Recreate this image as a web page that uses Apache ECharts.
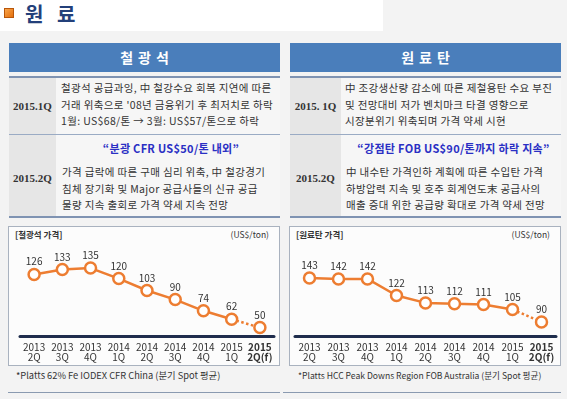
<!DOCTYPE html>
<html><head><meta charset="utf-8">
<script src="https://cdn.jsdelivr.net/npm/echarts@6/dist/echarts.min.js"></script>
<style>
html,body{margin:0;padding:0;}
body{width:567px;height:399px;background:#f3f3f3;position:relative;overflow:hidden;font-family:"Noto Sans CJK KR","Noto Sans",sans-serif;color:#333;}
.a{position:absolute;}
#topw{left:0;top:0;width:383px;height:31px;background:#fff;}
#icon{left:4px;top:8px;width:10px;height:10px;box-sizing:border-box;background:linear-gradient(135deg,#f9a54c,#e36f0c);border:1px solid #b8560a;}
#ttl{left:25px;top:0px;font-size:20px;font-weight:bold;color:#23407a;line-height:28px;word-spacing:9px;}
.panel{top:43px;width:271px;height:175px;}
.hdr{left:0;top:0;width:100%;height:29px;background:#4a7ebb;color:#fff;font-weight:bold;font-size:14px;line-height:29px;text-align:center;letter-spacing:5px;text-indent:5px;}
.ln{left:0;width:100%;background:#7f93b2;}
.row{left:0;width:100%;}
.lab{left:0;top:0;height:100%;background:#e6e6e6;display:flex;align-items:center;justify-content:center;font-family:"Liberation Serif","DejaVu Serif",serif;font-weight:bold;font-size:11px;color:#333;}
.txt{top:0;height:100%;right:0;background:#f6f6f6;font-size:10.5px;line-height:16.6px;white-space:nowrap;color:#333;box-sizing:border-box;letter-spacing:0.35px;}
.q{color:#2a2fc4;font-weight:bold;text-align:center;line-height:16px;font-size:11px;letter-spacing:0.3px;}
.box{top:226px;height:140px;background:#fcfcfc;border:1px solid #a9b2bf;box-sizing:border-box;}
.ct{font-size:8.5px;font-weight:bold;top:229px;line-height:11px;}
.cu{font-size:8.5px;top:229px;line-height:11px;}
.fn{font-size:9px;top:369px;line-height:12px;white-space:nowrap;}
.bl{top:392px;height:1px;background:#8a9ab0;}
#chart{left:0;top:0;width:567px;height:399px;}
</style></head>
<body>
<div class="a" id="topw"></div>
<div class="a" id="icon"></div>
<div class="a" id="ttl">원 료</div>

<!-- left panel -->
<div class="a panel" style="left:9px;">
  <div class="a hdr">철광석</div>
  <div class="a ln" style="top:33px;height:2px;"></div>
  <div class="a row" style="top:35px;height:56px;">
    <div class="a lab" style="width:47px;">2015.1Q</div>
    <div class="a txt" style="left:47px;padding:2px 0 0 5px;">
      <div>철광석 공급과잉, 中 철강수요 회복 지연에 따른</div>
      <div>거래 위축으로 '08년 금융위기 후 최저치로 하락</div>
      <div>1월: US$68/톤 → 3월: US$57/톤으로 하락</div>
    </div>
  </div>
  <div class="a ln" style="top:91px;height:1px;background:#9aabc4;"></div>
  <div class="a row" style="top:92px;height:81px;">
    <div class="a lab" style="width:47px;padding-top:5px;box-sizing:border-box;">2015.2Q</div>
    <div class="a txt" style="left:47px;padding:5px 0 0 6px;">
      <div class="q">“분광 CFR US$50/톤 내외”</div>
      <div style="margin-top:8px;">가격 급락에 따른 구매 심리 위축, 中 철강경기</div>
      <div>침체 장기화 및 Major 공급사들의 신규 공급</div>
      <div>물량 지속 출회로 가격 약세 지속 전망</div>
    </div>
  </div>
  <div class="a ln" style="top:173px;height:2px;"></div>
</div>

<!-- right panel -->
<div class="a panel" style="left:290px;">
  <div class="a hdr">원료탄</div>
  <div class="a ln" style="top:33px;height:2px;"></div>
  <div class="a row" style="top:35px;height:56px;">
    <div class="a lab" style="width:51px;">2015. 1Q</div>
    <div class="a txt" style="left:51px;padding:2px 0 0 4px;">
      <div>中 조강생산량 감소에 따른 제철용탄 수요 부진</div>
      <div>및 전망대비 저가 벤치마크 타결 영향으로</div>
      <div>시장분위기 위축되며 가격 약세 시현</div>
    </div>
  </div>
  <div class="a ln" style="top:91px;height:1px;background:#9aabc4;"></div>
  <div class="a row" style="top:92px;height:81px;">
    <div class="a lab" style="width:51px;padding-top:5px;box-sizing:border-box;">2015.2Q</div>
    <div class="a txt" style="left:51px;padding:5px 0 0 5px;">
      <div class="q">“강점탄 FOB US$90/톤까지 하락 지속”</div>
      <div style="margin-top:8px;">中 내수탄 가격인하 계획에 따른 수입탄 가격</div>
      <div>하방압력 지속 및 호주 회계연도末 공급사의</div>
      <div>매출 증대 위한 공급량 확대로 가격 약세 전망</div>
    </div>
  </div>
  <div class="a ln" style="top:173px;height:2px;"></div>
</div>

<!-- chart boxes -->
<div class="a box" style="left:8px;width:272px;"></div>
<div class="a box" style="left:289px;width:272px;"></div>
<div class="a ct" style="left:15px;">[철광석 가격]</div>
<div class="a cu" style="right:298px;">(US$/ton)</div>
<div class="a ct" style="left:296px;">[원료탄 가격]</div>
<div class="a cu" style="right:17px;">(US$/ton)</div>
<div class="a fn" style="left:16px;font-size:9.3px;">*Platts 62% Fe IODEX CFR China (분기 Spot 평균)</div>
<div class="a fn" style="left:298px;font-size:8.6px;">*Platts HCC Peak Downs Region FOB Australia (분기 Spot 평균)</div>
<div class="a bl" style="left:8px;width:272px;"></div>
<div class="a bl" style="left:283px;width:278px;"></div>

<div class="a" id="chart"></div>

<script>
const categories = ['2013\n2Q','2013\n3Q','2013\n4Q','2014\n1Q','2014\n2Q','2014\n3Q','2014\n4Q','2015\n1Q','2015\n2Q(f)'];
const ironOrePrice = [126,133,135,120,103,90,74,62,50];
const cokingCoalPrice = [143,142,142,122,113,112,111,105,90];

const ORANGE = '#ed7d31';
const FONT = '"Noto Sans CJK KR","Noto Sans",sans-serif';

function solidPart(vals){ return vals.map((v,i)=> i < vals.length-1 ? v : '-'); }
function dottedPart(vals){
  const n = vals.length;
  return vals.map((v,i)=> i===n-1 ? v : (i===n-2 ? {value:v, symbol:'none', label:{show:false}} : '-'));
}

const labelStyle = {show:true, position:'top', distance:1, fontSize:10, color:'#333', fontFamily:FONT};
function seriesFor(vals, idx){
  return [
    {type:'line', xAxisIndex:idx, yAxisIndex:idx, data:dottedPart(vals),
     lineStyle:{color:ORANGE, width:2.5, type:[2.5,2.5]}, symbol:'circle', symbolSize:11,
     itemStyle:{color:'#fff', borderColor:ORANGE, borderWidth:2.5}, label:labelStyle, z:2},
    {type:'line', xAxisIndex:idx, yAxisIndex:idx, data:solidPart(vals),
     lineStyle:{color:ORANGE, width:2.5}, symbol:'circle', symbolSize:11,
     itemStyle:{color:'#fff', borderColor:ORANGE, borderWidth:2.5}, label:labelStyle, z:3}
  ];
}

function xAxisFor(idx){
  return {
    type:'category', gridIndex:idx, data:categories, boundaryGap:true,
    axisLine:{lineStyle:{color:'#1f2d4d', width:3}}, axisTick:{show:false},
    axisLabel:{interval:0, margin:6,
      formatter:function(v, i){
        const parts = v.split('\n');
        const tag = (i === categories.length-1) ? 'b' : 'n';
        return parts.map(p=>'{'+tag+'|'+p+'}').join('\n');
      },
      rich:{
        n:{fontSize:10, color:'#333', lineHeight:10, fontFamily:FONT},
        b:{fontSize:10, fontWeight:'bold', color:'#333', lineHeight:10, fontFamily:FONT}
      }
    }
  };
}

const chart = echarts.init(document.getElementById('chart'), null, {renderer:'canvas'});
chart.setOption({
  animation:false,
  backgroundColor:'transparent',
  grid:[
    {left:20, top:245, width:254, height:91},
    {left:295, top:245, width:261, height:91}
  ],
  xAxis:[xAxisFor(0), xAxisFor(1)],
  yAxis:[
    {type:'value', gridIndex:0, min:38, max:168, show:false, splitLine:{show:false}},
    {type:'value', gridIndex:1, min:73, max:183, show:false, splitLine:{show:false}}
  ],
  series:[].concat(seriesFor(ironOrePrice,0), seriesFor(cokingCoalPrice,1))
});
</script>
</body></html>
